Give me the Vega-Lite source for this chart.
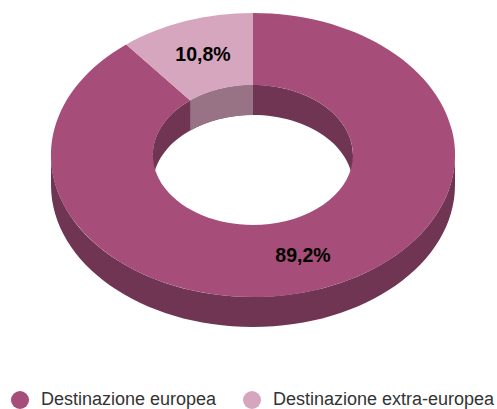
{
"$schema":"https://vega.github.io/schema/vega-lite/v6.json",
"width":497,"height":409,"padding":0,"autosize":{"type":"none"},
"background":"white",
"view":{"stroke":null},
"config":{"view":{"stroke":null}},
"datasets":{"quote":[
{"destinazione":"Destinazione europea","quota":89.2,"etichetta":"89,2%"},
{"destinazione":"Destinazione extra-europea","quota":10.8,"etichetta":"10,8%"}
]},
"data":{"name":"quote"},
"layer":[
{"mark":{"type":"point","filled":true,"opacity":1,"size":4,"fill":"#6f3552","strokeWidth":0,
 "shape":"M -197.5 -49.5 A 202 142 0 0 0 206.5 -49.5 L 206.5 -19.5 A 202 142 0 0 1 -197.5 -19.5 Z"},
 "transform":[{"filter":"datum.quota > 50"}]},
{"mark":{"type":"point","filled":true,"opacity":1,"size":4,"fill":"#6f3552","strokeWidth":0,
 "shape":"M -95.5 -49.5 A 100 70 0 0 1 104.5 -49.5 L 104.5 -19.5 A 100 70 0 0 0 -95.5 -19.5 Z"},
 "transform":[{"filter":"datum.quota > 50"}]},
{"mark":{"type":"point","filled":true,"opacity":1,"size":4,"fill":"#987386","strokeWidth":0,
 "shape":"M -58.3 -104 A 100 70 0 0 1 4.5 -119.5 L 4.5 -89.5 A 100 70 0 0 0 -58.3 -74 Z"},
 "transform":[{"filter":"datum.quota < 50"}]},
{"transform":[{"filter":"datum.quota > 50"}],
 "mark":{"type":"point","filled":true,"opacity":1,"size":4,"strokeWidth":0,
 "shape":"M 4.5 -191.5 A 202 142 0 1 1 -122.3 -160 L -58.3 -104 A 100 70 0 1 0 4.5 -119.5 Z"},
 "encoding":{"color":{"field":"destinazione","type":"nominal","sort":null,
   "scale":{"domain":["Destinazione europea","Destinazione extra-europea"],"range":["#a64d79","#d5a6bd"]},
   "legend":{"title":null,"orient":"none","legendX":11,"legendY":391,"direction":"horizontal","columns":2,"symbolType":"circle","symbolSize":324,"symbolStrokeWidth":0,"symbolOpacity":1,"labelFont":"Liberation Sans","labelFontSize":18,"labelColor":"#333333","labelOffset":12,"columnPadding":26,"labelLimit":300}}}},
{"transform":[{"filter":"datum.quota < 50"}],
 "mark":{"type":"point","filled":true,"opacity":1,"size":4,"strokeWidth":0,
 "shape":"M 4.5 -191.5 A 202 142 0 0 0 -122.3 -160 L -58.3 -104 A 100 70 0 0 1 4.5 -119.5 Z"},
 "encoding":{"color":{"field":"destinazione","type":"nominal","sort":null,
   "scale":{"domain":["Destinazione europea","Destinazione extra-europea"],"range":["#a64d79","#d5a6bd"]}}}},
{"transform":[{"filter":"datum.quota > 50"}],
 "mark":{"type":"text","font":"Liberation Sans","fontWeight":"bold","fontSize":19.5,"fill":"#000000","align":"center","baseline":"middle","dx":54.5,"dy":51},
 "encoding":{"text":{"field":"etichetta","type":"nominal"}}},
{"transform":[{"filter":"datum.quota < 50"}],
 "mark":{"type":"text","font":"Liberation Sans","fontWeight":"bold","fontSize":19.5,"fill":"#000000","align":"center","baseline":"middle","dx":-45.5,"dy":-149.5},
 "encoding":{"text":{"field":"etichetta","type":"nominal"}}}
]
}
